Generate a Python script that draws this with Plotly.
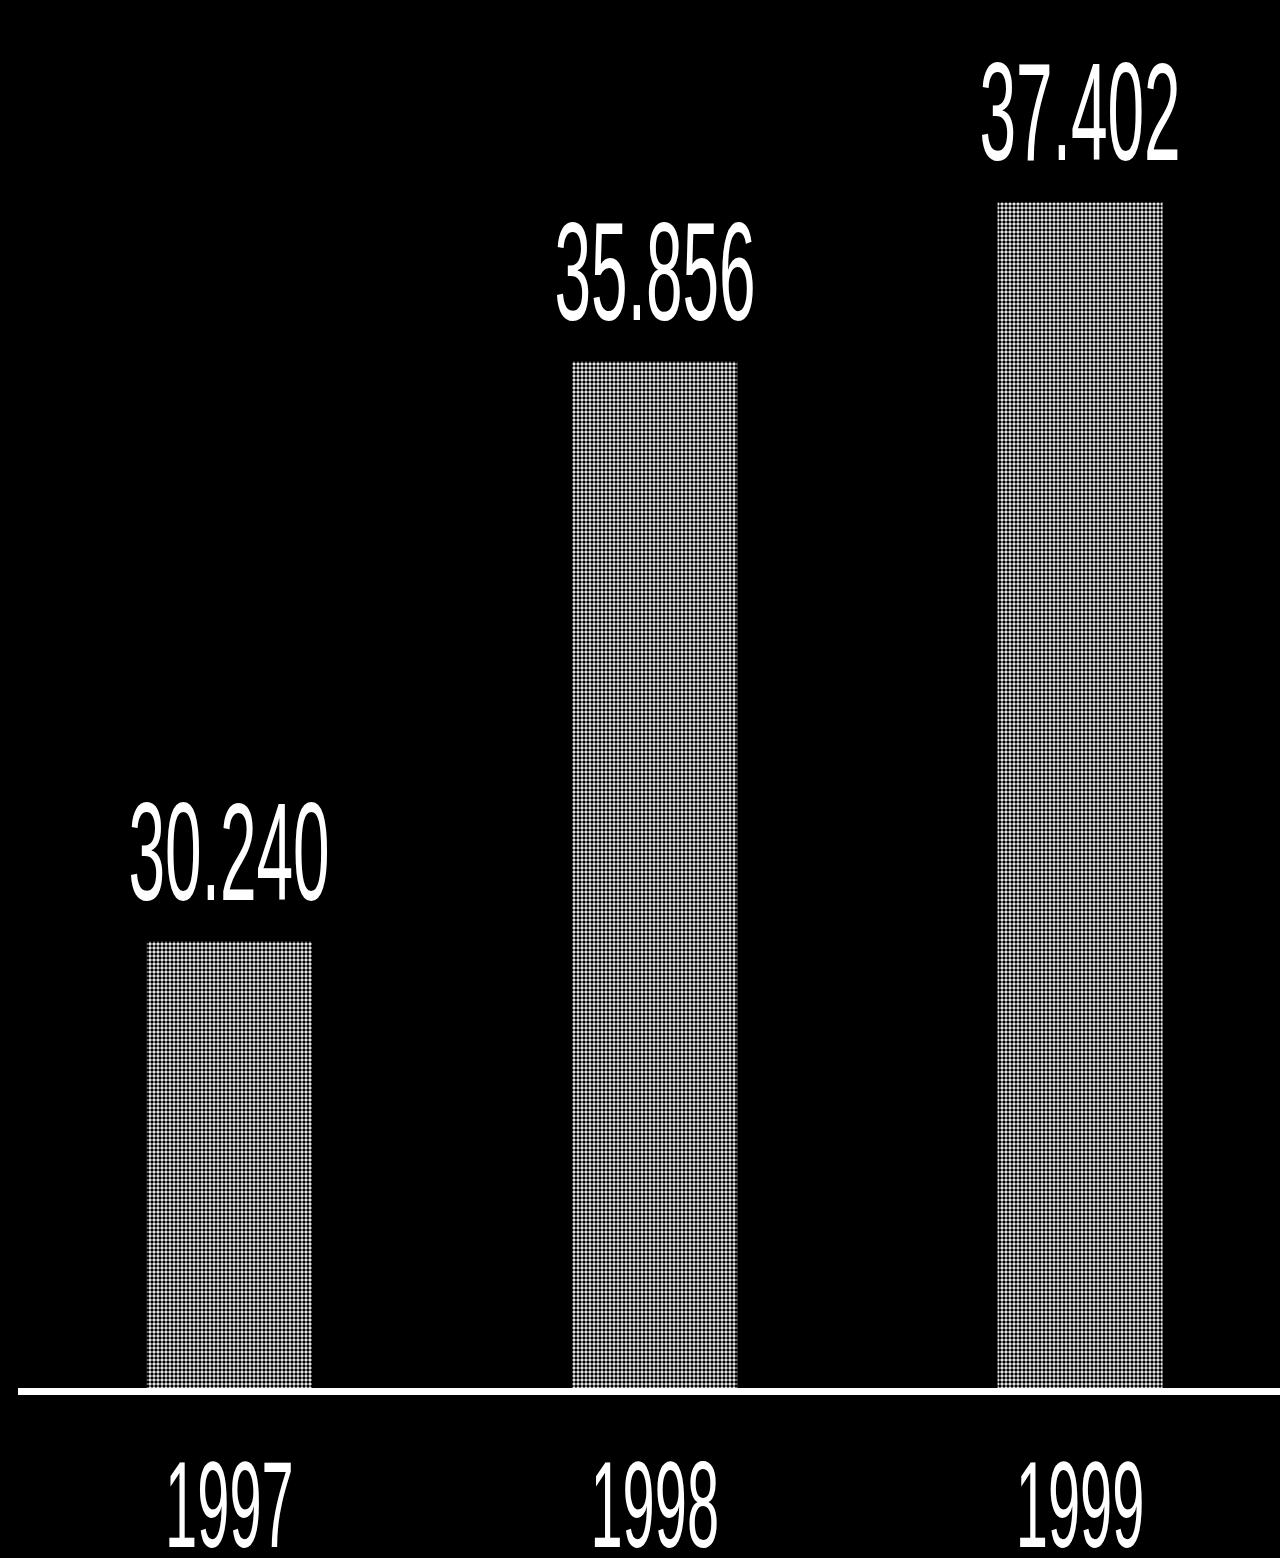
import plotly.graph_objects as go

years = ["1997", "1998", "1999"]
values = [30240, 35856, 37402]
value_labels = [f"{v:,}".replace(",", ".") for v in values]

FONT = "Liberation Sans, Arial, sans-serif"

fig = go.Figure()
fig.add_trace(go.Bar(
    x=[0, 1, 2],
    y=values,
    width=0.388,
    marker=dict(
        color="#ffffff",
        line=dict(width=0),
        pattern=dict(shape=".", fgcolor="#000000", bgcolor="#ffffff",
                     size=4, solidity=0.6, fillmode="replace"),
    ),
    hoverinfo="skip",
    cliponaxis=True,
))

for i, (v, lab) in enumerate(zip(values, value_labels)):
    fig.add_annotation(x=i, y=v, text=lab, showarrow=False,
                       yanchor="bottom", yshift=10,
                       font=dict(family=FONT, size=140, color="white"))

fig.update_layout(
    width=1280, height=1558,
    paper_bgcolor="black", plot_bgcolor="black",
    margin=dict(l=18, r=0, t=0, b=170, autoexpand=False),
    showlegend=False,
    xaxis=dict(
        range=[-0.497, 2.47],
        tickvals=[0, 1, 2], ticktext=years,
        tickfont=dict(family=FONT, size=123, color="white"),
        ticks="outside", ticklen=4, tickcolor="black",
        showline=True, linecolor="white", linewidth=7,
        showgrid=False, zeroline=False, fixedrange=True, automargin=False,
    ),
    yaxis=dict(
        range=[25920, 39360],
        visible=False, showgrid=False, zeroline=False, fixedrange=True,
    ),
)

post = """
document.body.style.margin='0';
document.body.style.background='black';
function squeeze(){
  var nodes = document.querySelectorAll('text.annotation-text, g.xtick text');
  nodes.forEach(function(t){
    if (t.getAttribute('data-sq')) return;
    var b = t.getBBox();
    var cx = b.x + b.width/2, cy = b.y + b.height/2;
    var tr = t.getAttribute('transform') || '';
    t.setAttribute('transform', tr + ' translate(' + cx + ',' + cy + ') scale(0.47,1) translate(' + (-cx) + ',' + (-cy) + ')');
    t.setAttribute('data-sq', '1');
  });
}
squeeze();
"""

fig.write_html("out.html", post_script=post, config={"displayModeBar": False})
